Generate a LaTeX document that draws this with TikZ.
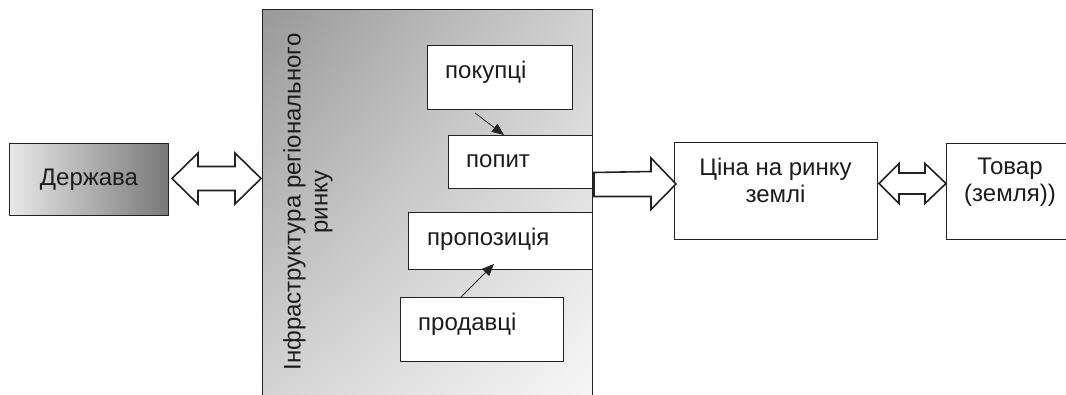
\documentclass[tikz,border=0pt]{standalone}
\usepackage{fontspec}
\setmainfont{Liberation Sans}
\usetikzlibrary{calc,arrows.meta,shadings}
\definecolor{ink}{HTML}{222222}
\definecolor{txt}{HTML}{1C1C1C}
\begin{document}
\begin{tikzpicture}[x=1pt,y=-1pt,
  box/.style={draw=ink, line width=1pt, fill=white, inner sep=0pt, anchor=north west},
  lbl/.style={text=txt, font=\fontsize{24}{27}\selectfont, inner sep=0pt},
  hollow/.style={draw=ink, line width=1.6pt, fill=white, line join=miter},
  link/.style={draw=ink, line width=0.8pt, -{Triangle[length=12pt,width=10pt]}}]
\useasboundingbox (0,0) rectangle (1066,394);

% state
\node[box, minimum width=159pt, minimum height=72pt, left color=white!91!black, right color=white!47!black] (der) at (9,143) {};
\node[lbl] (dertxt) at (der.center) {Держава};

% regional market infrastructure
\node[box, minimum width=330pt, minimum height=400pt,
  upper left=white!60!black, upper right=white!82!black,
  lower left=white!84!black, lower right=white!97!black] (infra) at (262,9) {};
\node[lbl, rotate=90, align=center] (infratxt) at (308,202) {Інфраструктура регіонального\\ринку};

% inner boxes
\node[box, minimum width=145pt, minimum height=64pt] (pok) at (427,45) {};
\node[lbl, anchor=west] (poktxt) at (445,72) {покупці};
\node[box, minimum width=144pt, minimum height=53pt] (pop) at (448,135) {};
\node[lbl, anchor=west] (poptxt) at (466,161) {попит};
\node[box, minimum width=184pt, minimum height=57pt] (prop) at (408,212) {};
\node[lbl, anchor=west] (proptxt) at (427,239) {пропозиція};
\node[box, minimum width=163pt, minimum height=64pt] (prod) at (400,297) {};
\node[lbl, anchor=west] (prodtxt) at (418,324) {продавці};

\draw[link] ([xshift=48pt,yshift=-3pt]pok.south west) -- ([xshift=56pt]pop.north west);
\draw[link] ([xshift=61pt]prod.north west) -- ([xshift=86pt,yshift=6pt]prop.south west);

% price and goods
\node[box, minimum width=203pt, minimum height=97pt] (cina) at (674,142) {};
\node[lbl, align=center] (cinatxt) at (775.5,180.5) {Ціна на ринку\\землі};
\node[box, minimum width=130pt, minimum height=96pt] (tov) at (946,143) {};
\node[lbl, align=center] (tovtxt) at (1010,182) {Товар\\(земля))};

% hollow arrow: state <-> infrastructure
\coordinate (a1) at ($(der.east)+(3,-1)$);
\coordinate (b1) at ($(infra.west |- a1)+(-1,0)$);
\draw[hollow] (a1) -- ++(26,-25.5) -- ++(0,13.5) -- ($(b1)+(-26,-12)$) -- ++(0,-13.5)
  -- (b1) -- ++(-26,25.5) -- ++(0,-13.5) -- ($(a1)+(26,12)$) -- ++(0,13.5) -- cycle;

% hollow arrow: infrastructure -> price
\coordinate (a2) at ($(infra.east |- cina.west)+(1,-6.5)$);
\coordinate (b2) at ($(cina.west)+(2,-7)$);
\draw[hollow] ($(a2)+(0,-12)$) -- ($(b2)+(-25,-12.5)$) -- ++(0,-13.5) -- (b2)
  -- ++(-25,25.5) -- ++(0,-13) -- ($(a2)+(0,12)$) -- cycle;

% hollow arrow: price <-> goods
\coordinate (a3) at ($(cina.east)+(1,-7.5)$);
\coordinate (b3) at ($(tov.west |- a3)$);
\draw[hollow] (a3) -- ++(20,-20) -- ++(0,9.5) -- ($(b3)+(-21,-10.5)$) -- ++(0,-9.5)
  -- (b3) -- ++(-21,20) -- ++(0,-9.5) -- ($(a3)+(20,10.5)$) -- ++(0,9.5) -- cycle;
\end{tikzpicture}
\end{document}
